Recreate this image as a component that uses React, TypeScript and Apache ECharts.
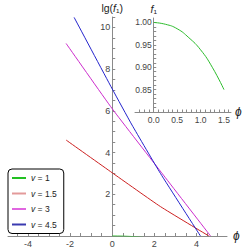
import React, { useEffect, useRef } from "react";
import * as echarts from "echarts";

const FONT = "'Liberation Sans', 'DejaVu Sans', sans-serif";

// legend / series
const legendLabels = ["1", "1.5", "3", "4.5"];
const seriesColors = ["#2dbd2d", "#cc2020", "#cc2ccc", "#2424cc"];
const legendColors = ["#22c022", "#e39a9a", "#e066e0", "#3a3ab0"];

// main plot: lg(f1) vs phi
const v1Phi = [0, 0.25, 0.5, 0.75, 1.0, 1.25, 1.5];
const v1Lg = [0, -0.0017, -0.0061, -0.015, -0.0273, -0.0458, -0.0706];
const v15Phi = [-2.19, 0, 2.29, 4.59];
const v15Lg = [4.6, 3.03, 1.41, 0];
const v3Phi = [-2.19, 0, 2.43, 4.67];
const v3Lg = [9.23, 6.1, 2.92, 0];
const v45Phi = [-1.81, 0, 0.94, 2.29, 4.19];
const v45Lg = [10.48, 7.05, 5.32, 3.0, 0];

// inset: f1 vs phi
const insetPhi = [0, 0.25, 0.5, 0.75, 1.0, 1.25, 1.5];
const insetF1 = [1.0, 0.996, 0.986, 0.966, 0.939, 0.9, 0.85];

// tick labels
const mainXLabels = [-4, -2, 0, 2, 4];
const mainYLabels = [2, 4, 6, 8, 10];
const insetXLabels = [0, 0.5, 1.0, 1.5];
const insetYLabels = [0.85, 0.9, 0.95, 1.0];

// axis extents
const mainXMin = -4.95;
const mainXMax = 5.45;
const insetXMin = -0.4;
const insetXMax = 1.65;

const mainGrid = { left: 8, top: 17, width: 219, height: 219 };
const insetGrid = { left: 135, top: 18, width: 96, height: 94 };

const steps = (from: number, to: number, step: number) => {
  const out: number[] = [];
  for (let k = 0; from + k * step <= to + 1e-9; k++) out.push(+(from + k * step).toFixed(4));
  return out;
};

const zip = (xs: number[], ys: number[]) => xs.map((x, i) => [x, ys[i]]);

// offset (negative = moved into the grid) that puts a left y-axis at x = 0
const zeroOffset = (min: number, max: number, width: number) => -((0 - min) / (max - min)) * width;

export default function App() {
  const ref = useRef<HTMLDivElement>(null);
  useEffect(() => {
    if (!ref.current) return;
    const chart = echarts.init(ref.current, null, { renderer: "svg" });
    const axisLineStyle = { color: "#8a8a8a", width: 1 };
    const labelStyle = { color: "#444", fontFamily: FONT };
    const mainSeriesData = [
      zip(v1Phi, v1Lg),
      zip(v15Phi, v15Lg),
      zip(v3Phi, v3Lg),
      zip(v45Phi, v45Lg),
    ];
    const nameRich = {
      n: { fontSize: 10.5, color: "#222", fontFamily: FONT },
      i: { fontSize: 10.5, fontStyle: "italic", color: "#222", fontFamily: FONT },
    };
    const option: any = {
      animation: false,
      backgroundColor: "#fff",
      grid: [mainGrid, insetGrid],
      xAxis: [
        {
          type: "value",
          gridIndex: 0,
          min: mainXMin,
          max: mainXMax,
          name: "ϕ",
          nameLocation: "end",
          nameGap: 6,
          nameTextStyle: { fontSize: 12, fontStyle: "italic", color: "#222", fontFamily: FONT },
          axisLine: { onZero: false, lineStyle: axisLineStyle },
          axisTick: { inside: true, length: 3, lineStyle: axisLineStyle, customValues: steps(-4.5, 5, 0.5) },
          axisLabel: { ...labelStyle, fontSize: 9, margin: 3, customValues: mainXLabels, formatter: (v: number) => String(v) },
          splitLine: { show: false },
        },
        {
          type: "value",
          gridIndex: 1,
          min: insetXMin,
          max: insetXMax,
          name: "ϕ",
          nameLocation: "end",
          nameGap: 4,
          nameTextStyle: { fontSize: 12, fontStyle: "italic", color: "#222", fontFamily: FONT },
          axisLine: { onZero: false, lineStyle: axisLineStyle },
          axisTick: { inside: true, length: 2.5, lineStyle: axisLineStyle, customValues: steps(-0.3, 1.6, 0.1) },
          axisLabel: { ...labelStyle, fontSize: 8.5, margin: 3, customValues: insetXLabels, formatter: (v: number) => v.toFixed(1) },
          splitLine: { show: false },
        },
      ],
      yAxis: [
        {
          type: "value",
          gridIndex: 0,
          position: "left",
          offset: zeroOffset(mainXMin, mainXMax, mainGrid.width),
          min: 0,
          max: 10.5,
          name: "{n|lg(}{i|f}{n|₁)}",
          nameLocation: "end",
          nameGap: 4,
          nameTextStyle: { color: "#222", fontFamily: FONT, rich: nameRich },
          axisLine: { onZero: false, lineStyle: axisLineStyle },
          axisTick: { inside: true, length: 3, lineStyle: axisLineStyle, customValues: steps(0.5, 10.5, 0.5) },
          axisLabel: { ...labelStyle, fontSize: 9, margin: 2, customValues: mainYLabels, formatter: (v: number) => String(v) },
          splitLine: { show: false },
        },
        {
          type: "value",
          gridIndex: 1,
          position: "left",
          offset: zeroOffset(insetXMin, insetXMax, insetGrid.width),
          min: 0.8,
          max: 1.01,
          name: "{i|f}{n|₁}",
          nameLocation: "end",
          nameGap: 4,
          nameTextStyle: { color: "#222", fontFamily: FONT, rich: nameRich },
          axisLine: { onZero: false, lineStyle: axisLineStyle },
          axisTick: { inside: true, length: 2.5, lineStyle: axisLineStyle, customValues: steps(0.81, 1.0, 0.01) },
          axisLabel: { ...labelStyle, fontSize: 8.5, margin: 2, customValues: insetYLabels, formatter: (v: number) => v.toFixed(2) },
          splitLine: { show: false },
        },
      ],
      legend: {
        orient: "vertical",
        left: 8,
        top: 169,
        padding: [4, 7, 4, 4],
        itemGap: 5.5,
        itemWidth: 14,
        itemHeight: 2,
        icon: "rect",
        borderColor: "#000",
        borderWidth: 1,
        borderRadius: 4,
        backgroundColor: "#fff",
        data: legendLabels.map((l, i) => ({
          name: "v = " + l,
          itemStyle: { color: legendColors[i] },
        })),
        formatter: (name: string) => "{i|v}" + name.slice(1),
        textStyle: {
          fontSize: 8.5,
          lineHeight: 10,
          color: "#222",
          fontFamily: FONT,
          rich: {
            i: { fontSize: 8.5, lineHeight: 10, fontStyle: "italic", color: "#222", fontFamily: FONT },
          },
        },
      },
      series: [
        ...mainSeriesData.map((d, i) => ({
          name: "v = " + legendLabels[i],
          type: "line",
          xAxisIndex: 0,
          yAxisIndex: 0,
          data: d,
          symbol: "none",
          clip: true,
          smooth: i === 0 ? false : 0.15,
          lineStyle: { color: seriesColors[i], width: 1 },
          itemStyle: { color: seriesColors[i] },
          z: 3,
        })),
        {
          name: "inset",
          type: "line",
          xAxisIndex: 1,
          yAxisIndex: 1,
          data: zip(insetPhi, insetF1),
          symbol: "none",
          smooth: true,
          lineStyle: { color: seriesColors[0], width: 1 },
          itemStyle: { color: seriesColors[0] },
          z: 3,
        },
      ],
    };
    chart.setOption(option);
    return () => chart.dispose();
  }, []);
  return (
    <div
      ref={ref}
      style={{ position: "fixed", left: 0, top: 0, width: 250, height: 250, background: "#fff" }}
    />
  );
}
